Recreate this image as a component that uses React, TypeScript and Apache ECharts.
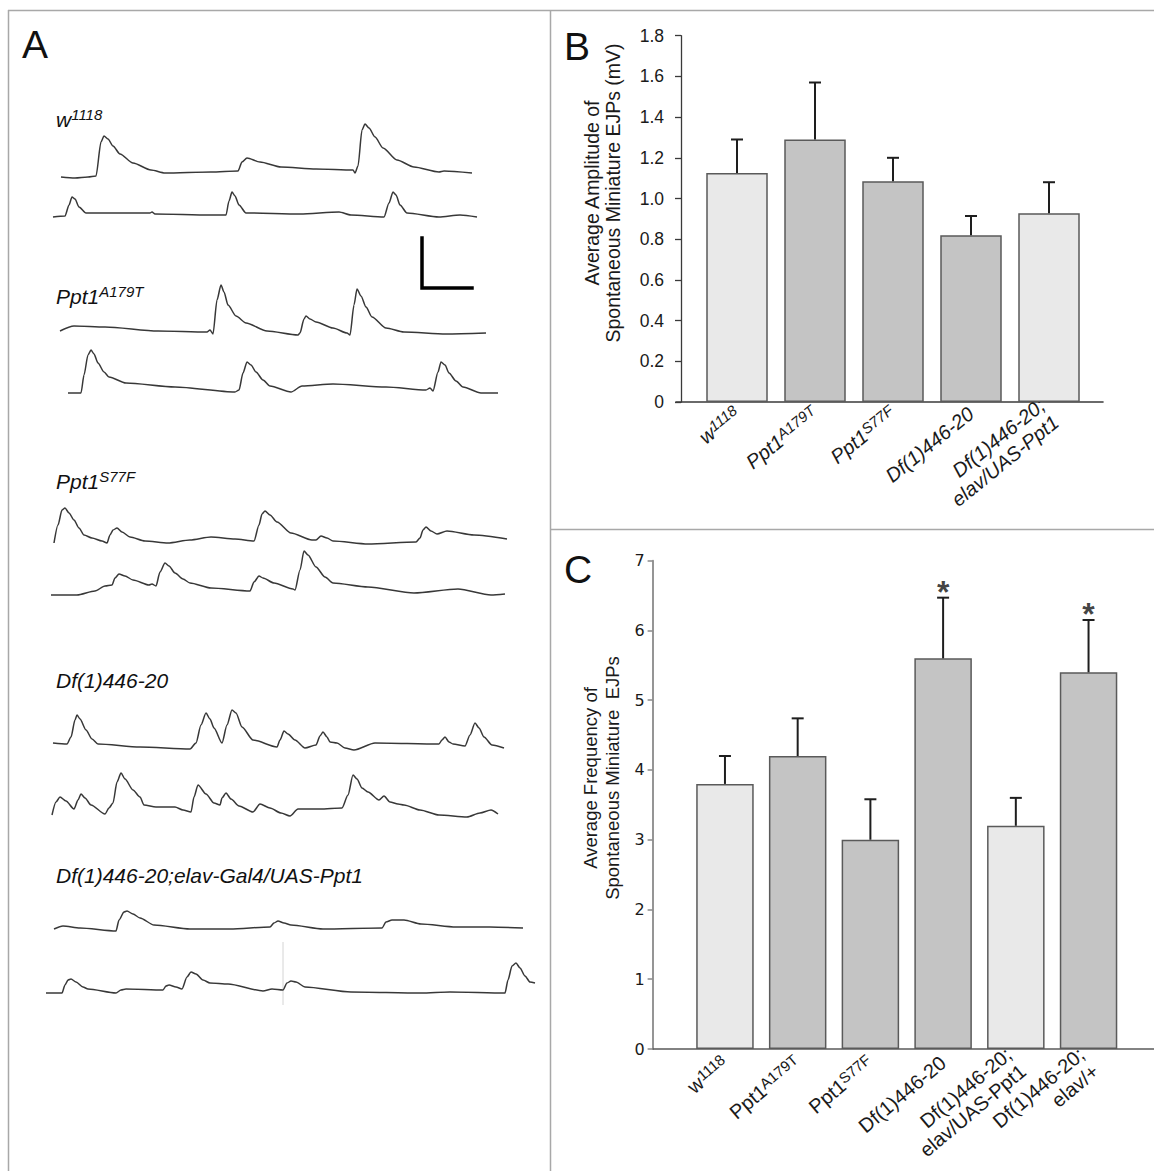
import React, { useEffect, useRef } from "react";
import * as echarts from "echarts";

const W = 1154;
const H = 1171;
const SANS = "'Liberation Sans', Arial, sans-serif";
const DEJAVU = "'DejaVu Sans', Verdana, sans-serif";

// ---------- Panel A: spontaneous mEJP traces, [time (ms from trace start), mV above baseline] ----------
const traceW1118a = [[0,0],[56,-0.04],[108,0],[140,0.04],[160,1.4],[172,1.64],[188,1.52],[208,1.24],[236,0.92],[288,0.56],[360,0.28],[416,0.16],[600,0.2],[708,0.24],[724,0.6],[744,0.76],[796,0.6],[880,0.4],[1020,0.32],[1168,0.28],[1176,0.16],[1188,0.44],[1204,1.88],[1216,2.12],[1232,1.96],[1256,1.6],[1288,1.16],[1344,0.68],[1412,0.4],[1512,0.2],[1532,0.24],[1644,0.16]];
const traceW1118b = [[0,-0.04],[48,0],[64,0.44],[76,0.76],[88,0.68],[104,0.36],[132,0.12],[388,0.12],[396,0.16],[408,0.08],[628,0.04],[692,0.04],[704,0.6],[716,0.96],[728,0.8],[744,0.44],[772,0.12],[988,0.08],[1144,0.16],[1192,0.04],[1324,-0.04],[1344,0.52],[1360,0.96],[1372,0.84],[1388,0.44],[1416,0.12],[1544,-0.04],[1628,0.04],[1696,-0.04]];
const traceA179Ta = [[0,0],[56,0.2],[180,0.16],[392,0],[588,-0.04],[600,0.04],[612,-0.12],[628,1.24],[644,1.84],[656,1.56],[672,1.04],[704,0.6],[744,0.32],[828,0],[952,-0.16],[960,-0.08],[976,0.48],[984,0.6],[1000,0.48],[1024,0.36],[1092,0.12],[1148,-0.08],[1160,-0.16],[1176,1.04],[1188,1.68],[1204,1.4],[1224,0.96],[1248,0.56],[1304,0.12],[1376,-0.04],[1544,-0.12],[1704,-0.08]];
const traceA179Tb = [[0,-0.04],[52,-0.04],[64,0.68],[80,1.48],[92,1.68],[104,1.52],[120,1.16],[144,0.8],[164,0.6],[232,0.36],[428,0.2],[668,0],[684,0.08],[700,0.76],[716,1.2],[732,1.08],[752,0.8],[780,0.48],[808,0.24],[892,0],[936,0.24],[1060,0.32],[1272,0.2],[1432,0.08],[1448,0.16],[1460,0.04],[1480,0.8],[1492,1.2],[1508,1.08],[1524,0.76],[1552,0.44],[1580,0.2],[1652,-0.04],[1720,-0.04]];
const traceS77Fa = [[0,0],[16,0.72],[32,1.32],[44,1.4],[60,1.2],[80,0.92],[100,0.6],[120,0.32],[152,0.2],[192,0.08],[212,0],[224,0.32],[236,0.52],[252,0.6],[272,0.44],[304,0.24],[364,0.08],[456,0],[544,0.12],[628,0.24],[724,0.16],[800,0.08],[820,0.72],[832,1.16],[844,1.28],[864,1.12],[892,0.84],[948,0.4],[1032,0.12],[1048,0.12],[1068,0.28],[1092,0.2],[1116,0.08],[1256,-0.04],[1448,0.04],[1464,0.2],[1476,0.52],[1488,0.64],[1508,0.48],[1532,0.36],[1572,0.48],[1680,0.32],[1812,0.16]];
const traceS77Fb = [[0,0],[104,0],[176,0.16],[216,0.36],[244,0.4],[256,0.68],[272,0.84],[296,0.76],[328,0.6],[392,0.4],[404,0.44],[420,0.36],[436,0.92],[456,1.28],[472,1.16],[496,0.88],[528,0.64],[556,0.48],[640,0.28],[796,0.16],[812,0.52],[832,0.76],[848,0.68],[892,0.48],[968,0.24],[976,0.2],[996,1.0],[1012,1.76],[1028,1.6],[1060,1.12],[1096,0.72],[1128,0.48],[1268,0.32],[1452,0.08],[1628,0.24],[1760,0],[1816,0.04]];
const traceDfA = [[0,0.04],[56,0],[72,0.28],[88,0.96],[96,1.16],[108,1.0],[132,0.56],[156,0.2],[180,0],[348,-0.12],[548,-0.2],[572,0.04],[592,0.76],[612,1.24],[628,1.0],[644,0.64],[676,0.04],[696,0.76],[716,1.36],[732,1.24],[756,0.68],[800,0.16],[896,-0.12],[908,0.16],[924,0.52],[940,0.4],[968,0.16],[1008,-0.16],[1052,-0.04],[1068,0.32],[1080,0.48],[1096,0.28],[1108,0.08],[1136,0.04],[1168,-0.16],[1204,-0.24],[1288,0.04],[1544,0],[1556,0.16],[1568,0.28],[1584,0.08],[1600,0],[1648,-0.08],[1668,0.36],[1688,0.84],[1704,0.64],[1724,0.28],[1756,-0.04],[1804,-0.16]];
const traceDfB = [[0,-0.08],[16,0.44],[32,0.64],[56,0.48],[88,0.16],[104,0.52],[116,0.76],[132,0.6],[156,0.32],[212,-0.04],[228,0.2],[244,0.4],[260,1.24],[276,1.6],[292,1.36],[324,0.92],[352,0.64],[368,0.32],[416,0.24],[464,0.24],[492,0.24],[524,0.12],[556,0.04],[568,0.64],[584,1.12],[616,0.76],[648,0.4],[672,0.32],[680,0.6],[696,0.8],[716,0.56],[748,0.28],[804,0.04],[832,0.36],[872,0.2],[916,0],[952,-0.12],[984,0.16],[1072,0.16],[1160,0.2],[1184,0.72],[1204,1.52],[1220,1.36],[1240,1.0],[1264,0.84],[1308,0.52],[1328,0.68],[1352,0.44],[1384,0.36],[1408,0.32],[1472,0.12],[1548,-0.08],[1660,-0.16],[1712,0],[1756,0.12],[1784,-0.04]];
const traceRescueA = [[0,0],[36,0.12],[104,0.04],[248,-0.08],[260,0.36],[280,0.68],[292,0.72],[316,0.6],[344,0.44],[400,0.16],[544,0],[704,0],[864,0.08],[880,0.24],[896,0.32],[920,0.24],[948,0.16],[1076,0],[1312,0.04],[1328,0.28],[1352,0.36],[1400,0.36],[1468,0.2],[1608,0.08],[1744,0.08],[1876,0.04]];
const traceRescueB = [[0,0],[64,0],[76,0.32],[88,0.52],[100,0.56],[120,0.44],[148,0.24],[168,0.16],[280,0],[300,0.12],[320,0.16],[468,0.12],[480,0.28],[492,0.32],[520,0.24],[544,0.16],[564,0.64],[580,0.84],[600,0.76],[628,0.52],[656,0.4],[728,0.36],[868,0.08],[904,0.16],[948,0.12],[964,0.4],[980,0.48],[1000,0.44],[1036,0.24],[1220,0.04],[1500,0],[1616,0.04],[1836,0],[1848,0.52],[1864,1.08],[1880,1.2],[1896,1.0],[1916,0.68],[1936,0.44],[1956,0.4]];
const stimulusArtifact = [[948,2.04],[948,-0.48]];
const scaleBar = [[0,2],[0,0],[200,0]]; // 2 mV / 200 ms

// Panel A trace labels: [name, superscript]
const traceLabels = [["w","1118"],["Ppt1","A179T"],["Ppt1","S77F"],["Df(1)446-20",""],["Df(1)446-20;elav-Gal4/UAS-Ppt1",""]];

// ---------- Panel B: amplitude ----------
const genotypesB = [["w","1118"],["Ppt1","A179T"],["Ppt1","S77F"],["Df(1)446-20",""],["Df(1)446-20;\nelav/UAS-Ppt1",""]];
const amplitudeMean = [1.125, 1.29, 1.085, 0.82, 0.927];
const amplitudeErrTop = [1.29, 1.57, 1.2, 0.914, 1.08];
const amplitudeGroup = ["control","mutant","mutant","mutant","rescue"];
const amplitudeTicks = [0, 1.8, 0.2];

// ---------- Panel C: frequency ----------
const genotypesC = [["w","1118"],["Ppt1","A179T"],["Ppt1","S77F"],["Df(1)446-20",""],["Df(1)446-20;\nelav/UAS-Ppt1",""],["Df(1)446-20;\nelav/+",""]];
const frequencyMean = [3.8, 4.2, 3.0, 5.6, 3.2, 5.4];
const frequencyErrTop = [4.2, 4.74, 3.58, 6.47, 3.6, 6.15];
const frequencyGroup = ["control","mutant","mutant","mutant","rescue","mutant"];
const frequencySignificant = [false, false, false, true, false, true];
const frequencyTicks = [0, 7, 1];

// ---------- layout / style (not data) ----------
const groupColor: Record<string, string> = { control: "#e9e9e9", rescue: "#e9e9e9", mutant: "#c4c4c4" };
const A_MS_PER_PX = 4;
const A_MV_PER_PX = 0.04;
const traceLayout = [
  { data: traceW1118a, t0: 244, v0: 39.76 },
  { data: traceW1118b, t0: 212, v0: 38.2 },
  { data: traceA179Ta, t0: 240, v0: 33.6 },
  { data: traceA179Tb, t0: 272, v0: 31.16 },
  { data: traceS77Fa, t0: 216, v0: 25.12 },
  { data: traceS77Fb, t0: 204, v0: 23.04 },
  { data: traceDfA, t0: 212, v0: 17.08 },
  { data: traceDfB, t0: 208, v0: 14.32 },
  { data: traceRescueA, t0: 216, v0: 9.68 },
  { data: traceRescueB, t0: 184, v0: 7.12 },
];
const artifactAnchor = { t0: 184, v0: 7.12 };
const scaleBarAnchor = { t0: 1688, v0: 35.32 };
const traceLabelBaselines = [126, 303, 488, 687, 882];

function richLabel(lbl: string[]) {
  const lines = lbl[0].split("\n");
  return lines
    .map((ln, k) => `{b|${ln}}` + (k === lines.length - 1 && lbl[1] ? `{s|${lbl[1]}}` : ""))
    .join("\n");
}

function errorBars(xi: number, means: number[], tops: number[], lw: number) {
  return {
    type: "custom",
    xAxisIndex: xi,
    yAxisIndex: xi,
    silent: true,
    z: 4,
    data: means.map((m, i) => [i, m, tops[i]]),
    renderItem: (params: any, api: any) => {
      const i = api.value(0);
      const lo = api.coord([i, api.value(1)]);
      const hi = api.coord([i, api.value(2)]);
      const hw = 6;
      const st = { stroke: "#1e1e1e", lineWidth: lw };
      return {
        type: "group",
        children: [
          { type: "line", shape: { x1: lo[0], y1: lo[1], x2: hi[0], y2: hi[1] }, style: st },
          { type: "line", shape: { x1: hi[0] - hw, y1: hi[1], x2: hi[0] + hw, y2: hi[1] }, style: st },
        ],
      };
    },
  };
}

export default function App() {
  const ref = useRef<HTMLDivElement>(null);
  useEffect(() => {
    if (!ref.current) return;
    const chart = echarts.init(ref.current, undefined, { renderer: "svg" });

    const traceSeries: any[] = traceLayout.map((tr) => ({
      type: "line",
      xAxisIndex: 0,
      yAxisIndex: 0,
      data: tr.data.map(([t, v]) => [t + tr.t0, v + tr.v0]),
      showSymbol: false,
      symbol: "none",
      smooth: 0.25,
      smoothMonotone: "x",
      silent: true,
      lineStyle: { color: "#383838", width: 1.5, join: "round" },
      z: 3,
    }));
    traceSeries.push({
      type: "line", xAxisIndex: 0, yAxisIndex: 0, silent: true, symbol: "none",
      data: stimulusArtifact.map(([t, v]) => [t + artifactAnchor.t0, v + artifactAnchor.v0]),
      lineStyle: { color: "#d4d4d4", width: 1 }, z: 2,
    });
    traceSeries.push({
      type: "line", xAxisIndex: 0, yAxisIndex: 0, silent: true, symbol: "none",
      data: scaleBar.map(([t, v]) => [t + scaleBarAnchor.t0, v + scaleBarAnchor.v0]),
      lineStyle: { color: "#000", width: 3.5, cap: "square", join: "miter" }, z: 3,
    });

    const richB = {
      b: { fontFamily: SANS, fontStyle: "italic", fontSize: 20, color: "#1a1a1a", lineHeight: 22 },
      s: { fontFamily: SANS, fontStyle: "italic", fontSize: 15, color: "#1a1a1a", verticalAlign: "top", lineHeight: 15 },
    };
    const richC = {
      b: { fontFamily: SANS, fontSize: 20, color: "#1a1a1a", lineHeight: 22 },
      s: { fontFamily: SANS, fontSize: 15, color: "#1a1a1a", verticalAlign: "top", lineHeight: 15 },
    };

    const hiddenVal = (gi: number, min: number, max: number) => ({
      gridIndex: gi, type: "value", min, max, show: false,
    });
    const baseLineX = (gi: number, color: string, width: number) => ({
      gridIndex: gi, type: "value", min: 0, max: 1, position: "bottom",
      axisLine: { show: true, lineStyle: { color, width } },
      axisTick: { show: false }, axisLabel: { show: false }, splitLine: { show: false },
    });

    const option: any = {
      animation: false,
      backgroundColor: "#ffffff",
      grid: [
        { left: 0, top: 0, width: 550, height: H },
        { left: 698, top: 35.7, width: 390, height: 366.3 },
        { left: 676, top: 35.7, width: 427, height: 366.3 },
        { left: 688.6, top: 560.7, width: 436.3, height: 488.3 },
        { left: 653, top: 560.7, width: 501, height: 488.3 },
      ],
      xAxis: [
        hiddenVal(0, 0, 550 * A_MS_PER_PX),
        {
          gridIndex: 1, type: "category", data: genotypesB.map((g) => g[0] + g[1]),
          axisLine: { show: false }, axisTick: { show: false },
          axisLabel: {
            interval: 0, rotate: 39, margin: 9,
            formatter: (_v: string, i: number) => richLabel(genotypesB[i]), rich: richB,
          },
        },
        baseLineX(2, "#3a3a3a", 1.6),
        {
          gridIndex: 3, type: "category", data: genotypesC.map((g) => g[0] + g[1]),
          axisLine: { show: false }, axisTick: { show: false },
          axisLabel: {
            interval: 0, rotate: 40, margin: 11,
            formatter: (_v: string, i: number) => richLabel(genotypesC[i]), rich: richC,
          },
        },
        baseLineX(4, "#5a5a5a", 1.6),
      ],
      yAxis: [
        hiddenVal(0, 0, H * A_MV_PER_PX),
        {
          gridIndex: 1, type: "value", min: amplitudeTicks[0], max: amplitudeTicks[1], interval: amplitudeTicks[2],
          offset: 17,
          axisLine: { show: true, lineStyle: { color: "#3a3a3a", width: 1.3 } },
          axisTick: { show: true, length: 6, lineStyle: { color: "#3a3a3a", width: 1.3 } },
          splitLine: { show: false },
          axisLabel: {
            margin: 17, fontFamily: SANS, fontSize: 17.5, color: "#1a1a1a",
            formatter: (v: number) => (v === 0 ? "0" : v.toFixed(1)),
          },
        },
        hiddenVal(2, 0, 1),
        {
          gridIndex: 3, type: "value", min: frequencyTicks[0], max: frequencyTicks[1], interval: frequencyTicks[2],
          offset: 36,
          axisLine: { show: true, lineStyle: { color: "#8a8a8a", width: 1.8 } },
          axisTick: { show: true, length: 5, lineStyle: { color: "#8a8a8a", width: 1.5 } },
          splitLine: { show: false },
          axisLabel: { margin: 8, fontFamily: DEJAVU, fontSize: 16, color: "#1a1a1a" },
        },
        hiddenVal(4, 0, 1),
      ],
      series: [
        ...traceSeries,
        {
          type: "bar", xAxisIndex: 1, yAxisIndex: 1, barWidth: 61.5, silent: true, z: 3,
          data: amplitudeMean.map((v, i) => ({
            value: v,
            itemStyle: { color: groupColor[amplitudeGroup[i]], borderColor: "#5a5a5a", borderWidth: 1.5 },
          })),
        },
        errorBars(1, amplitudeMean, amplitudeErrTop, 2),
        {
          type: "bar", xAxisIndex: 3, yAxisIndex: 3, barWidth: 57.5, silent: true, z: 3,
          data: frequencyMean.map((v, i) => ({
            value: v,
            itemStyle: { color: groupColor[frequencyGroup[i]], borderColor: "#5a5a5a", borderWidth: 1.5 },
          })),
        },
        errorBars(3, frequencyMean, frequencyErrTop, 2),
        {
          type: "scatter", xAxisIndex: 3, yAxisIndex: 3, silent: true, z: 5,
          symbol: "circle", symbolSize: 2, itemStyle: { color: "rgba(0,0,0,0)" },
          data: frequencyErrTop.map((v, i) => (frequencySignificant[i] ? [i, v] : null)).filter((d) => d),
          label: {
            show: true, formatter: "*", position: "inside", offset: [0, -6],
            fontFamily: SANS, fontSize: 32, fontWeight: "bold", color: "#111",
          },
        },
      ],
      graphic: [
        // figure frame lines
        { type: "line", shape: { x1: 8, y1: 10.5, x2: W, y2: 10.5 }, style: { stroke: "#a8a8a8", lineWidth: 1.5 }, silent: true },
        { type: "line", shape: { x1: 8.5, y1: 10, x2: 8.5, y2: H }, style: { stroke: "#a8a8a8", lineWidth: 1.5 }, silent: true },
        { type: "line", shape: { x1: 550.5, y1: 10, x2: 550.5, y2: H }, style: { stroke: "#a8a8a8", lineWidth: 1.5 }, silent: true },
        { type: "line", shape: { x1: 550, y1: 529.5, x2: W, y2: 529.5 }, style: { stroke: "#a8a8a8", lineWidth: 1.5 }, silent: true },
        // panel letters
        { type: "text", x: 22, y: 44, style: { text: "A", fontFamily: SANS, fontSize: 39, fill: "#111", verticalAlign: "middle" } },
        { type: "text", x: 564, y: 46, style: { text: "B", fontFamily: SANS, fontSize: 39, fill: "#111", verticalAlign: "middle" } },
        { type: "text", x: 564, y: 569, style: { text: "C", fontFamily: SANS, fontSize: 39, fill: "#111", verticalAlign: "middle" } },
        // y-axis titles
        {
          type: "text", x: 602.5, y: 193, rotation: Math.PI / 2,
          style: { text: "Average Amplitude of\nSpontaneous Miniature EJPs (mV)", fontFamily: SANS, fontSize: 19.5, lineHeight: 21, fill: "#1a1a1a", align: "center", verticalAlign: "middle" },
        },
        {
          type: "text", x: 601.5, y: 778, rotation: Math.PI / 2,
          style: { text: "Average Frequency of\nSpontaneous Miniature  EJPs", fontFamily: SANS, fontSize: 18.5, lineHeight: 22, fill: "#1a1a1a", align: "center", verticalAlign: "middle" },
        },
        // trace labels
        ...traceLabels.map((lbl, i) => ({
          type: "text", x: 56, y: traceLabelBaselines[i] - 7,
          style: {
            text: `{b|${lbl[0]}}` + (lbl[1] ? `{s|${lbl[1]}}` : ""),
            verticalAlign: "middle",
            rich: {
              b: { fontFamily: SANS, fontStyle: "italic", fontSize: 21, fill: "#111", lineHeight: 24 },
              s: { fontFamily: SANS, fontStyle: "italic", fontSize: 15, fill: "#111", verticalAlign: "top", lineHeight: 15 },
            },
          },
        })),
      ],
    };
    chart.setOption(option);
    return () => chart.dispose();
  }, []);
  return (
    <div
      ref={ref}
      style={{ position: "absolute", left: 0, top: 0, width: W, height: H, background: "#fff" }}
    />
  );
}
